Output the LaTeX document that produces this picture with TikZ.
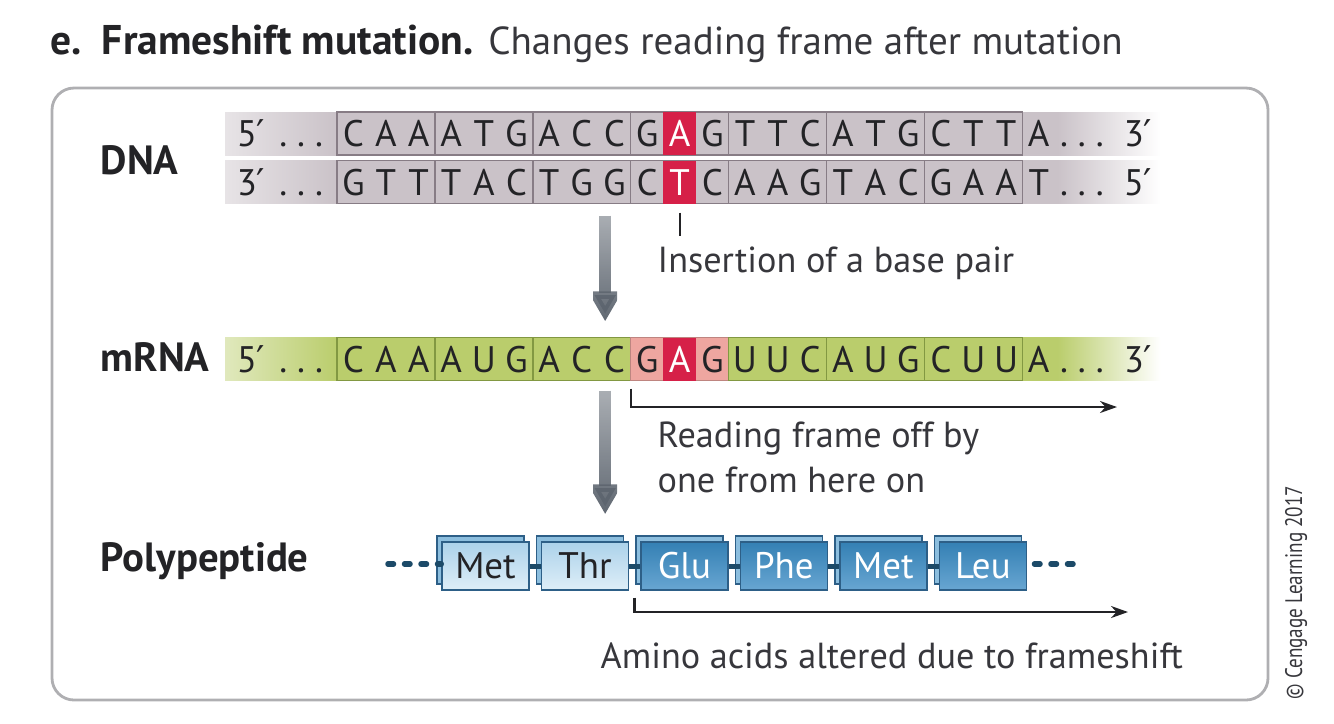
\documentclass[tikz,border=0pt]{standalone}
\usepackage{fontspec}
\setmainfont{PT Sans}
\newfontfamily\primefont{DejaVu Sans}
\usetikzlibrary{arrows.meta, positioning, calc, shadows, fadings, backgrounds}
\definecolor{txtdark}{RGB}{35, 35, 38}
\definecolor{txtgray}{RGB}{55, 55, 60}
\definecolor{panelgray}{RGB}{175, 175, 178}
\definecolor{dnagray}{RGB}{202, 194, 200}
\definecolor{dnaedge}{RGB}{135, 124, 133}
\definecolor{mutred}{RGB}{214, 32, 72}
\definecolor{mgreen}{RGB}{186, 205, 108}
\definecolor{medge}{RGB}{130, 152, 66}
\definecolor{mpink}{RGB}{238, 166, 160}
\definecolor{aaedge}{RGB}{45, 95, 135}
\definecolor{aaback}{RGB}{140, 190, 222}
\definecolor{aalighttop}{RGB}{172, 210, 234}
\definecolor{aalightbot}{RGB}{222, 238, 248}
\definecolor{aadarktop}{RGB}{52, 128, 180}
\definecolor{aadarkbot}{RGB}{104, 166, 210}
\definecolor{bondblue}{RGB}{28, 74, 104}
\definecolor{arrgray}{RGB}{92, 100, 110}
\pgfdeclarehorizontalshading{dnaband}{100bp}{color(0bp)=(white); color(25bp)=(white!55!dnagray);
  color(31bp)=(dnagray); color(69.5bp)=(dnagray); color(75bp)=(white); color(100bp)=(white)}
\pgfdeclarehorizontalshading{rnaband}{100bp}{color(0bp)=(white); color(25bp)=(white!55!mgreen);
  color(31bp)=(mgreen); color(69.5bp)=(mgreen); color(75bp)=(white); color(100bp)=(white)}
\tikzfading[name=arrfade, top color=transparent!50, bottom color=transparent!0]
\newlength{\bpw}
\setlength{\bpw}{0.3262cm}
\newcommand{\cod}[3]{\makebox[\bpw]{#1}\makebox[\bpw]{#2}\makebox[\bpw]{#3}}
\newcommand{\pr}{{\primefont ′}}
\newcommand{\seqfont}{\fontsize{10.5}{12}\selectfont}
\newcommand{\lblfont}{\fontsize{11.6}{14}\selectfont\bfseries}
\newcommand{\ttlfont}{\fontsize{11.8}{14}\selectfont}
\newcommand{\notefont}{\fontsize{10.3}{12}\selectfont}
\newcommand{\aafont}{\fontsize{10.5}{12}\selectfont}

\begin{document}
\begin{tikzpicture}[
    x=0.01cm, y=-0.01cm,
    node distance=0pt,
    base/.style={inner sep=0pt, outer sep=0pt, minimum height=0.43cm,
                 text height=0.26cm, text depth=0pt, font=\seqfont, text=txtdark},
    codon/.style={base, draw=dnaedge, fill=dnagray, minimum width=0.9786cm},
    rcodon/.style={base, draw=medge, fill=mgreen, minimum width=0.9786cm},
    mut/.style={base, fill=mutred, text=white, minimum width=0.3262cm},
    ends/.style={base},
    lbl/.style={font=\lblfont, text=txtdark, anchor=base west, inner sep=0pt},
    note/.style={font=\notefont, text=txtgray, anchor=base west, inner sep=0pt},
    aa/.style={draw=aaedge, thin, minimum width=0.87cm, minimum height=0.48cm, inner sep=0pt,
               font=\aafont, general shadow={fill=aaback, draw=aaedge, thin,
               shadow xshift=-0.05cm, shadow yshift=0.06cm}},
    aaold/.style={aa, top color=aalighttop, bottom color=aalightbot, text=txtdark},
    aanew/.style={aa, top color=aadarktop, bottom color=aadarkbot, text=white},
    bond/.style={draw=bondblue, line width=0.05cm},
    chain/.style={bond, line width=0.055cm, line cap=round, dash pattern=on 0.055cm off 0.11cm},
    bigarr/.style={draw=arrgray, line width=0.12cm,
                   -{Triangle[width=0.32cm, length=0.3cm]}, path fading=arrfade},
    frame/.style={draw=txtdark, line width=0.7pt, -{Stealth[length=0.17cm, width=0.12cm]}},
    tick/.style={draw=txtdark, line width=0.6pt},
    panel/.style={draw=panelgray, line width=0.8pt, rounded corners=0.22cm},
  ]
  \useasboundingbox (0,0) rectangle (1334,723);

  % title and panel
  \node[anchor=base west, inner sep=0pt, font=\ttlfont, text=txtgray] (title) at (50,54)
    {\textcolor{txtdark}{\bfseries e.\hspace{0.2cm}Frameshift mutation.}
     {\fontsize{11.1}{14}\selectfont Changes reading frame after mutation}};
  \draw[panel] (52,88) rectangle (1268,700);

  % row labels
  \node[lbl] (dna) at (100,174) {DNA};
  \node[lbl] (mrna) at (100,371) {mRNA};
  \node[lbl] (poly) at (100,571) {Polypeptide};

  % DNA, coding strand
  \node[codon, anchor=west] (t1) at (337,133.5) {\cod CAA};
  \node[codon, right=of t1] (t2) {\cod ATG};
  \node[codon, right=of t2] (t3) {\cod ACC};
  \node[codon, right=of t3] (t4) {\cod G{}G};
  \node[codon, right=of t4] (t5) {\cod TTC};
  \node[codon, right=of t5] (t6) {\cod ATG};
  \node[codon, right=of t6] (t7) {\cod CTT};
  \node[mut] (tA) at (t4) {A};
  \node[ends, anchor=west] (t8) at (t7.east)
    {\makebox[\bpw]{A}\hspace{0.05cm}.\hspace{0.1cm}.\hspace{0.1cm}.\hspace{0.2cm}3\pr};
  \node[ends, anchor=east] (t0) at ([xshift=-0.14cm]t1.west)
    {5\pr\hspace{0.14cm}.\hspace{0.1cm}.\hspace{0.1cm}.};

  % DNA, template strand
  \node[codon, anchor=west] (b1) at (337,182) {\cod GTT};
  \node[codon, right=of b1] (b2) {\cod TAC};
  \node[codon, right=of b2] (b3) {\cod TGG};
  \node[codon, right=of b3] (b4) {\cod C{}C};
  \node[codon, right=of b4] (b5) {\cod AAG};
  \node[codon, right=of b5] (b6) {\cod TAC};
  \node[codon, right=of b6] (b7) {\cod GAA};
  \node[mut] (bA) at (b4) {T};
  \node[ends, anchor=west] (b8) at (b7.east)
    {\makebox[\bpw]{T}\hspace{0.05cm}.\hspace{0.1cm}.\hspace{0.1cm}.\hspace{0.2cm}5\pr};
  \node[ends, anchor=east] (b0) at ([xshift=-0.14cm]b1.west)
    {3\pr\hspace{0.14cm}.\hspace{0.1cm}.\hspace{0.1cm}.};

  % mRNA
  \node[rcodon, anchor=west] (m1) at (337,359) {\cod CAA};
  \node[rcodon, right=of m1] (m2) {\cod AUG};
  \node[rcodon, right=of m2] (m3) {\cod ACC};
  \node[rcodon, right=of m3, fill=mpink, draw=mpink!80!black] (m4) {\cod G{}G};
  \node[rcodon, right=of m4] (m5) {\cod UUC};
  \node[rcodon, right=of m5] (m6) {\cod AUG};
  \node[rcodon, right=of m6] (m7) {\cod CUU};
  \node[mut] (mA) at (m4) {A};
  \node[ends, anchor=west] (m8) at (m7.east)
    {\makebox[\bpw]{A}\hspace{0.05cm}.\hspace{0.1cm}.\hspace{0.1cm}.\hspace{0.2cm}3\pr};
  \node[ends, anchor=east] (m0) at ([xshift=-0.14cm]m1.west)
    {5\pr\hspace{0.14cm}.\hspace{0.1cm}.\hspace{0.1cm}.};

  \begin{scope}[on background layer]
    \shade[shading=dnaband] ($(t1.north west)+(-112,0)$) rectangle ($(t7.south east)+(138,0)$);
    \shade[shading=dnaband] ($(b1.north west)+(-112,0)$) rectangle ($(b7.south east)+(138,0)$);
    \shade[shading=rnaband] ($(m1.north west)+(-112,0)$) rectangle ($(m7.south east)+(138,0)$);
  \end{scope}

  % polypeptide
  \node[aaold] (p1) at (485.5,566) {Met};
  \node[aaold, right=0.11cm of p1] (p2) {Thr};
  \node[aanew, right=0.11cm of p2] (p3) {Glu};
  \node[aanew, right=0.11cm of p3] (p4) {Phe};
  \node[aanew, right=0.11cm of p4] (p5) {Met};
  \node[aanew, right=0.11cm of p5] (p6) {Leu};
  \foreach \a/\b in {p1/p2, p2/p3, p3/p4, p4/p5, p5/p6}
    \draw[bond] (\a.east) -- (\b.west);
  \coordinate (pl) at (388,564);
  \coordinate (pr) at (1073,564);
  \draw[chain] (pl) -- (p1.west |- pl);
  \draw[chain] (pr) -- (p6.east |- pr);

  % notes
  \node[note] (ins) at (657,272) {Insertion of a base pair};
  \node[note] (rf1) at (657,447) {Reading frame off by};
  \node[note] (rf2) at (657,492) {one from here on};
  \node[note] (alt) at (600,668) {Amino acids altered due to frameshift};

  \draw[tick] ([yshift=-0.09cm]bA.south) -- ($(ins.north -| bA.south)+(0,-10)$);
  \coordinate (rfend) at (1117,407);
  \draw[frame] ([yshift=-0.08cm]m4.south west) |- (rfend);
  \coordinate (altend) at (1128,612);
  \draw[frame] ($(p2.south east)!0.5!(p3.south west)+(0,7)$) |- (altend);

  % flow arrows
  \draw[bigarr] ($(b3.south east)+(-25.6,12)$) -- ($(m3.north east)+(-25.6,-16)$);
  \draw[bigarr] ($(m3.south east)+(-25.6,10)$) -- ($(m3.south east |- p2.north)+(-25.6,-27)$);

  \node[rotate=90, anchor=west, inner sep=0pt, font=\fontsize{6.8}{8}\selectfont, text=txtgray]
    (copy) at (1296,700) {\scalebox{0.8}[1]{© Cengage Learning 2017}};
\end{tikzpicture}
\end{document}
